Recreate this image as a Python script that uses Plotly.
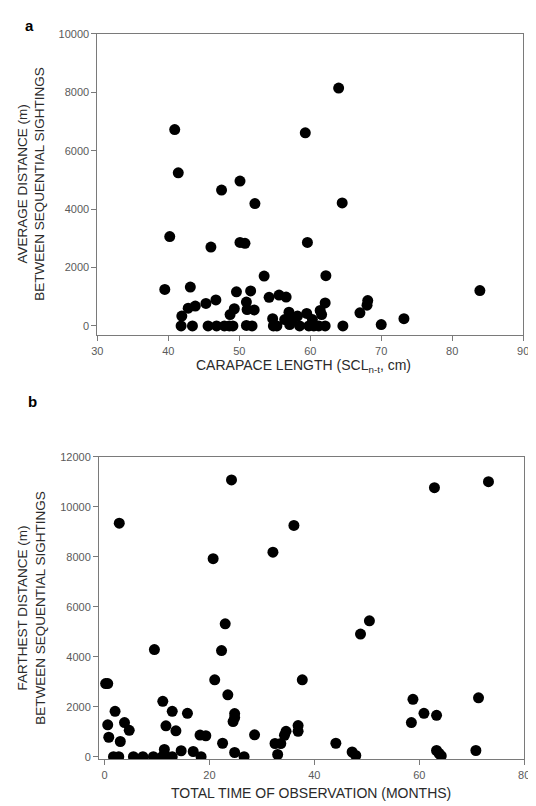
import plotly.graph_objects as go

# Panel a: carapace length (cm) vs average distance (m)
a_length = [64.0, 40.9, 59.3, 41.4, 50.1, 47.5, 52.2, 64.5, 40.2, 46.0, 50.1, 50.8, 59.6,
            53.5, 62.2, 39.5, 43.1, 83.9, 49.6, 51.6, 54.2, 55.6, 56.6, 46.7, 45.3, 43.8,
            42.8, 41.9, 51.0, 49.3, 48.7, 51.1, 52.1, 62.1, 61.4, 61.6, 68.1, 68.0, 67.0,
            73.2, 70.0, 64.6, 57.0, 58.2, 59.5, 54.7, 56.4, 57.5, 60.3, 57.1, 58.5, 54.8,
            55.3, 59.8, 60.5, 61.2, 62.1, 51.0, 51.8, 47.9, 48.6, 49.1, 45.6, 46.8, 43.4,
            41.8]
a_distance = [8140, 6720, 6610, 5240, 4960, 4650, 4190, 4210, 3060, 2700, 2860, 2830, 2860,
              1710, 1720, 1250, 1330, 1210, 1170, 1200, 980, 1060, 990, 890, 770, 680,
              610, 340, 820, 590, 390, 560, 550, 790, 530, 390, 870, 710, 450,
              250, 50, 0, 470, 340, 430, 250, 220, 220, 220, 50, 0, 0,
              0, 0, 0, 0, 0, 20, 0, 0, 0, 0, 0, 0, 0,
              0]

# Panel b: total time of observation (months) vs farthest distance (m)
b_time = [24.2, 62.9, 73.2, 2.8, 36.1, 20.7, 32.1, 23.0, 50.5, 48.8, 9.5, 22.3, 21.0, 37.7,
          0.2, 0.6, 23.5, 58.8, 71.3, 11.1, 2.0, 12.9, 15.8, 24.8, 24.8, 24.5, 60.9, 63.3,
          58.5, 0.6, 3.8, 4.7, 11.7, 13.6, 36.9, 36.9, 34.6, 34.3, 0.8, 3.0, 18.2, 19.3,
          28.6, 22.5, 32.5, 33.6, 44.1, 14.6, 11.4, 11.4, 16.9, 24.8, 63.3, 63.8, 64.2,
          70.8, 47.2, 47.9, 33.0, 26.6, 18.4, 1.7, 2.7, 5.5, 7.3, 9.3, 11.0, 12.9]
b_distance = [11080, 10770, 11010, 9350, 9260, 7930, 8190, 5320, 5440, 4910, 4290, 4250, 3080, 3080,
              2930, 2930, 2480, 2300, 2360, 2220, 1820, 1820, 1740, 1730, 1570, 1410, 1740, 1660,
              1370, 1280, 1370, 1060, 1240, 1040, 1250, 1020, 1020, 860, 780, 610, 870, 840,
              880, 540, 530, 530, 540, 240, 290, 90, 210, 170, 250, 130, 30,
              250, 190, 50, 90, 0, 0, 0, 0, 0, 0, 0, 0, 0]

a_xticks = [30, 40, 50, 60, 70, 80, 90]
a_yticks = [0, 2000, 4000, 6000, 8000, 10000]
b_xticks = [0, 20, 40, 60, 80]
b_yticks = [0, 2000, 4000, 6000, 8000, 10000, 12000]

PAGE_W, PAGE_H = 536, 806
OFF = 8  # default body margin of the html page
W, H = PAGE_W - OFF, PAGE_H - OFF
FONT = "Liberation Sans, Arial, sans-serif"
AX = "#7a7a7a"

fig = go.Figure()
marker = dict(size=11, color="black", line=dict(width=0))
fig.add_trace(go.Scatter(x=a_length, y=a_distance, mode="markers", marker=marker,
                         xaxis="x", yaxis="y", showlegend=False))
fig.add_trace(go.Scatter(x=b_time, y=b_distance, mode="markers", marker=marker,
                         xaxis="x2", yaxis="y2", showlegend=False))

def px_x(p):
    return (p - OFF) / W

def px_y(p):
    return 1 - (p - OFF) / H

common = dict(showgrid=False, zeroline=False, showline=True, linecolor=AX, linewidth=1,
              mirror=True, ticks="outside", ticklen=5, tickcolor=AX, tickwidth=1,
              tickformat="d",
              tickfont=dict(family=FONT, size=11, color="#5a5a5a"))

fig.update_layout(
    width=W, height=H,
    margin=dict(l=0, r=0, t=0, b=0),
    paper_bgcolor="white", plot_bgcolor="white",
    font=dict(family=FONT),
    xaxis=dict(domain=[px_x(93.3), px_x(529)], range=[30, 90], tickvals=a_xticks,
               anchor="y", **common),
    yaxis=dict(domain=[px_y(333), px_y(28)], range=[-320, 10000], tickvals=a_yticks,
               anchor="x", **common),
    xaxis2=dict(domain=[px_x(95), px_x(530)], range=[-1.06, 80], tickvals=b_xticks,
                anchor="y2", **common),
    yaxis2=dict(domain=[px_y(762), px_y(456)], range=[-110, 12000], tickvals=b_yticks,
                anchor="x2", **common),
)

ytitle_font = dict(family=FONT, size=13.5, color="#2a2a2a")
xtitle_font = dict(family=FONT, size=14, color="#2a2a2a")
ann = [
    dict(text="<b>a</b>", x=px_x(24), y=px_y(20), font=dict(family=FONT, size=15, color="black")),
    dict(text="<b>b</b>", x=px_x(27), y=px_y(400), font=dict(family=FONT, size=15, color="black")),
    dict(text="AVERAGE DISTANCE (m)<br>BETWEEN SEQUENTIAL SIGHTINGS", x=px_x(25), y=px_y(180),
         textangle=-90, font=ytitle_font),
    dict(text="CARAPACE LENGTH (SCL<sub>n-t</sub>, cm)", x=px_x(304), y=px_y(364), font=xtitle_font),
    dict(text="FARTHEST DISTANCE (m)<br>BETWEEN SEQUENTIAL SIGHTINGS", x=px_x(26), y=px_y(609),
         textangle=-90, font=ytitle_font),
    dict(text="TOTAL TIME OF OBSERVATION (MONTHS)", x=px_x(312), y=px_y(796), font=xtitle_font),
]
for a in ann:
    a.update(xref="paper", yref="paper", showarrow=False, xanchor="center", yanchor="middle")
fig.update_layout(annotations=ann)

fig.write_html("out.html")
